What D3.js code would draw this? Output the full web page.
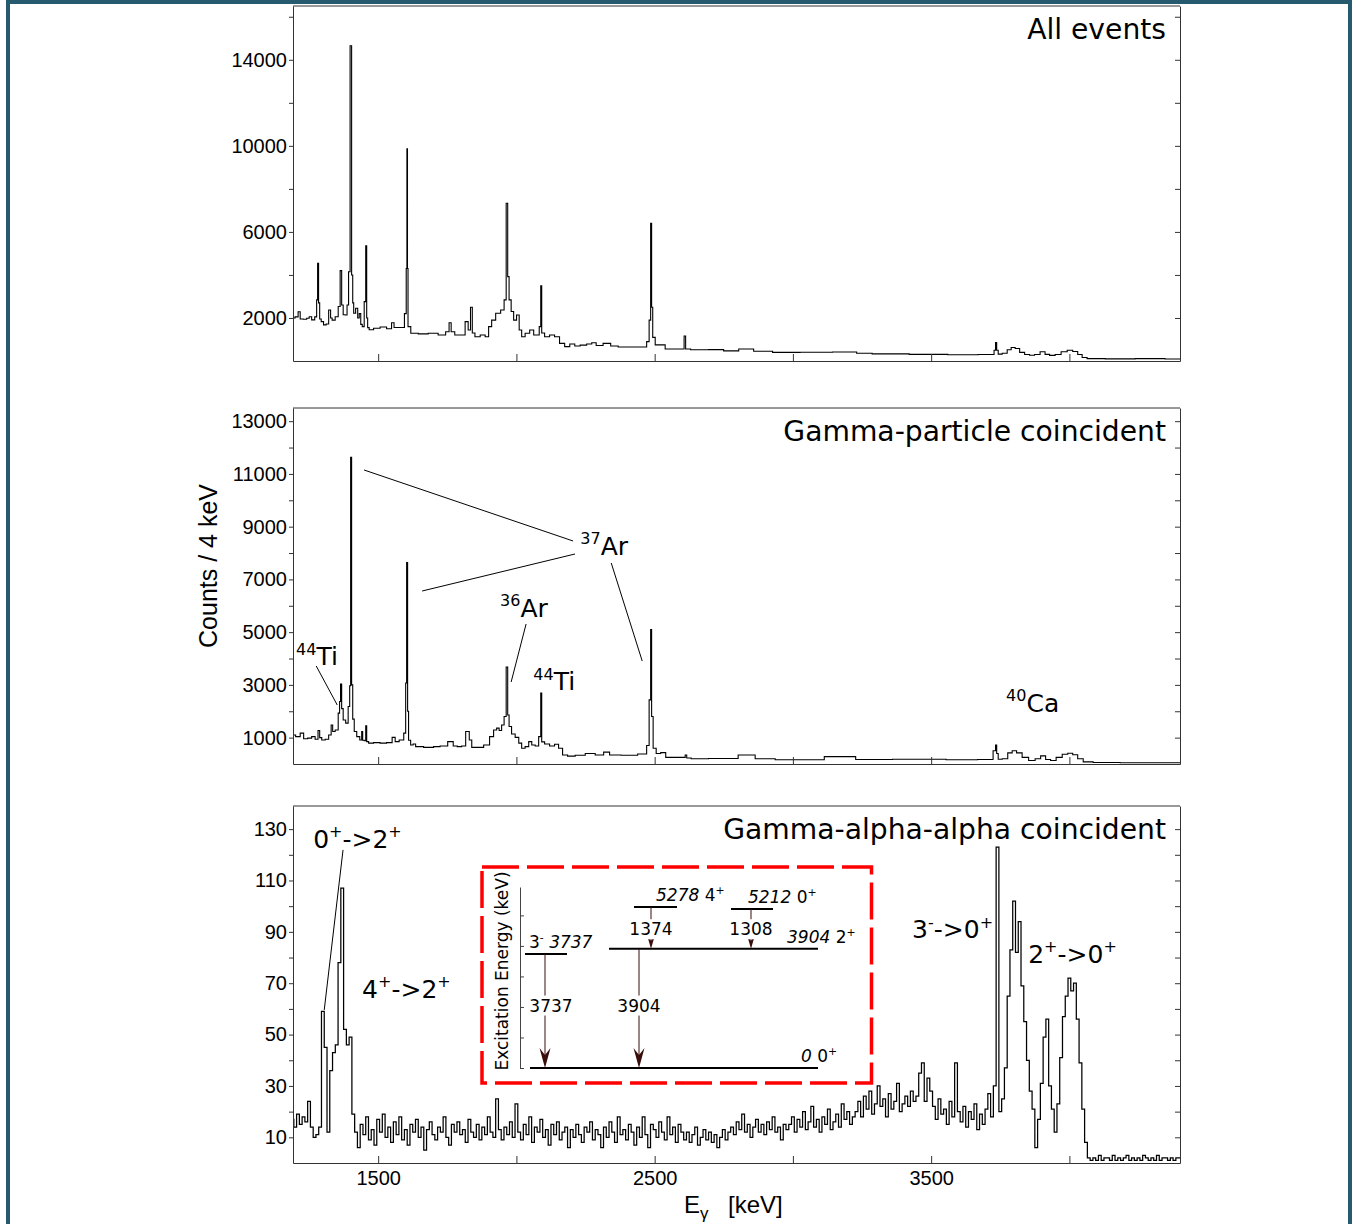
<!DOCTYPE html>
<html><head><meta charset="utf-8">
<script src="https://cdn.jsdelivr.net/npm/d3@7"></script>
<style>body{margin:0;background:#fff}svg{display:block}text{white-space:pre}</style>
</head><body>
<svg id="c" width="1354" height="1224"></svg>
<script>
// ---------------- DATA ----------------
const xDomain = [1192, 4400];
const xTickValues = [1500, 2000, 2500, 3000, 3500, 4000];
const xTickLabels = [1500, 2500, 3500];

// All events spectrum: [E (keV), counts / 4 keV]
const allEvents = [[1192,2000],[1207,2050],[1214,2290],[1222,1950],[1236,1940],[1247,1990],[1254,2060],[1265,1910],[1276,2050],[1279,2840],[1283,4540],[1286,2700],[1291,1950],[1297,1830],[1308,1680],[1316,1720],[1326,2370],[1330,2000],[1337,1900],[1352,2060],[1359,2530],[1366,4200],[1370,2600],[1377,2150],[1384,2140],[1391,2600],[1395,4150],[1402,14650],[1406,4000],[1410,2700],[1413,2220],[1424,2450],[1428,2000],[1435,2200],[1439,1700],[1446,1600],[1453,2760],[1457,5360],[1460,2000],[1464,1550],[1471,1450],[1496,1520],[1518,1580],[1543,1500],[1554,1780],[1561,1560],[1590,1560],[1600,2200],[1603,4300],[1605,9860],[1607,4300],[1609,1600],[1627,1290],[1663,1260],[1699,1290],[1735,1210],[1753,1360],[1760,1780],[1768,1360],[1786,1210],[1807,1210],[1822,1830],[1829,1440],[1839,2500],[1842,1300],[1858,1130],[1880,1210],[1894,1130],[1905,1600],[1916,1900],[1934,2220],[1952,2370],[1959,2840],[1967,7330],[1970,3920],[1977,2840],[1985,2300],[1995,1900],[2006,2140],[2014,1440],[2024,1130],[2039,1290],[2057,1440],[2068,1210],[2079,1210],[2086,1600],[2090,3490],[2093,1300],[2111,1130],[2129,1210],[2147,1130],[2165,820],[2184,670],[2202,790],[2220,700],[2241,740],[2267,790],[2278,850],[2299,720],[2328,820],[2354,700],[2382,650],[2466,650],[2476,900],[2484,1900],[2487,6400],[2491,2500],[2495,1100],[2509,750],[2527,750],[2549,560],[2603,560],[2610,1160],[2614,560],[2646,520],[2744,530],[2755,470],[2853,560],[2863,450],[2990,400],[3062,410],[3225,420],[3236,360],[3337,330],[3504,310],[3616,290],[3724,300],[3731,500],[3735,860],[3739,500],[3746,320],[3768,360],[3782,520],[3797,630],[3811,580],[3829,400],[3847,300],[3865,270],[3883,300],[3905,430],[3919,310],[3938,260],[3959,300],[3981,430],[4003,500],[4021,440],[4039,300],[4053,160],[4075,110],[4184,100],[4292,110],[4400,90]];

// Gamma-particle coincident spectrum
const gammaParticle = [[1192,1100],[1211,1040],[1225,1170],[1236,960],[1254,980],[1265,1040],[1279,940],[1286,1270],[1291,1000],[1301,910],[1316,940],[1326,1100],[1334,1480],[1337,1230],[1352,1290],[1359,1930],[1362,2370],[1366,3030],[1370,2100],[1377,1670],[1388,1550],[1395,2180],[1399,2970],[1402,11630],[1406,3000],[1410,1700],[1417,1230],[1428,1040],[1439,910],[1442,1230],[1446,900],[1453,880],[1457,1450],[1460,850],[1471,790],[1496,810],[1518,790],[1543,810],[1558,1010],[1565,850],[1587,910],[1598,1170],[1601,3070],[1605,7640],[1608,2000],[1612,900],[1623,720],[1630,760],[1641,660],[1688,630],[1713,660],[1735,680],[1768,850],[1775,680],[1797,660],[1807,680],[1826,1230],[1833,910],[1844,630],[1869,630],[1894,720],[1912,1040],[1923,1290],[1934,1360],[1941,1270],[1952,1480],[1959,1800],[1967,3680],[1970,1860],[1977,1420],[1988,1140],[2003,1010],[2014,790],[2024,600],[2039,660],[2050,850],[2061,720],[2075,680],[2086,1040],[2090,2690],[2093,840],[2111,760],[2129,680],[2147,750],[2158,600],[2176,340],[2194,300],[2231,330],[2267,400],[2303,340],[2328,450],[2346,340],[2411,330],[2466,380],[2476,700],[2484,2430],[2487,5100],[2491,1800],[2498,600],[2513,400],[2531,430],[2549,250],[2607,250],[2614,340],[2618,230],[2646,200],[2744,210],[2860,340],[2867,200],[3005,160],[3222,280],[3232,170],[3489,180],[3619,160],[3717,170],[3731,500],[3735,720],[3739,400],[3746,180],[3768,200],[3786,420],[3800,500],[3818,420],[3840,250],[3865,130],[3887,200],[3905,310],[3923,170],[3941,130],[3963,250],[3985,370],[4003,410],[4021,350],[4039,200],[4061,80],[4111,55],[4256,50],[4400,45]];

// Gamma-alpha-alpha coincident spectrum: 10 keV bins starting at 1190 keV
const gaaStart = 1190, gaaBin = 10;
const gammaAlphaAlpha = [
17,14,19,15,18,16,24,14,10,11,14,
59,45,12,36,43,46,78,107,52,46,49,19,
12,6,15,11,18,9,13,7,17,
12,19,10,14,8,16,11,18,9,13,
7,15,12,17,10,14,5,13,16,11,
9,14,12,18,10,7,15,12,16,11,
13,8,17,12,10,15,9,14,11,18,
12,10,25,13,9,14,11,16,10,23,
12,9,15,11,18,8,14,12,17,10,
13,7,15,11,16,9,12,14,6,13,
10,15,11,8,14,12,16,9,13,11,
6,14,10,16,12,8,18,11,13,9,
15,12,7,14,10,18,11,6,15,13,
10,16,12,9,18,11,14,8,15,12,
9,12,8,11,14,7,10,13,9,12,8,11,6,10,13,9,12,
14,11,16,13,19,12,15,10,14,17,12,15,11,16,13,18,12,14,9,15,13,
15,18,12,17,14,20,13,16,22,14,17,12,18,15,21,13,16,19,14,23,17,20,15,18,
20,24,18,26,21,28,19,23,30,22,25,18,27,21,24,31,20,23,26,22,28,24,
26,35,39,24,33,28,
22,17,25,19,21,15,24,18,39,20,16,22,14,20,17,23,13,19,15,21,27,18,30,
123,20,25,37,65,83,102,82,94,69,55,40,28,21,6,17,31,49,56,30,21,12,23,41,57,65,72,67,70,56,39,21,8,2,
1,2,1,3,1,2,2,1,3,1,2,1,2,3,1,2,1,2,1,3,2,1,2,1,3,1,2,2,1,2,1,2];

const topTicks = [2000,4000,6000,8000,10000,12000,14000,16000];
const topTickLabels = [2000,6000,10000,14000];
const midTicks = [1000,2000,3000,4000,5000,6000,7000,8000,9000,10000,11000,12000,13000];
const midTickLabels = [1000,3000,5000,7000,9000,11000,13000];
const botTicks = [10,20,30,40,50,60,70,80,90,100,110,120,130];
const botTickLabels = [10,30,50,70,90,110,130];

// Level scheme (inset)
const levelEnergies = [0, 3737, 3904, 5278, 5212];
const levelSpins = ["0+", "3-", "2+", "4+", "0+"];
const transFrom = [3737, 3904, 5278, 5212];
const transTo = [0, 0, 3904, 3904];
const transLabels = ["3737", "3904", "1374", "1308"];

// ---------------- DRAWING ----------------
const svg = d3.select("#c");
const TXT = "'Liberation Sans', Arial, sans-serif";
const DV = "'DejaVu Sans', Verdana, sans-serif";
const X0 = 293, X1 = 1180;
const x = d3.scaleLinear().domain(xDomain).range([X0, X1]);

// outer frame
svg.append("rect").attr("x", 8).attr("y", 2).attr("width", 1342).attr("height", 1400)
  .attr("fill", "none").attr("stroke", "#265a6e").attr("stroke-width", 4);

function rich(g, px, py, parts, size, fam, anchor) {
  const t = g.append("text").attr("x", px).attr("y", py).attr("font-size", size)
    .attr("font-family", fam || DV).attr("fill", "#000").attr("text-anchor", anchor || "start");
  let raised = 0;
  parts.forEach(([s, m]) => {
    const ts = t.append("tspan").text(s);
    if (m === 1) { // superscript
      ts.attr("font-size", size * 0.64);
      if (!raised) { ts.attr("dy", -size * 0.42); raised = size * 0.42; }
    } else {
      if (raised) { ts.attr("dy", raised); raised = 0; }
      if (m === 2) ts.attr("font-style", "italic");
    }
  });
  return t;
}

const panels = [
  {id: "p1", top: 6, bottom: 361, yDomain: [0, 16500], ticks: topTicks, labels: topTickLabels, title: "All events", xlab: false},
  {id: "p2", top: 408, bottom: 764, yDomain: [0, 13500], ticks: midTicks, labels: midTickLabels, title: "Gamma-particle coincident", xlab: false},
  {id: "p3", top: 806, bottom: 1163, yDomain: [0, 139], ticks: botTicks, labels: botTickLabels, title: "Gamma-alpha-alpha coincident", xlab: true}
];
const yScales = {};

panels.forEach((p, i) => {
  const y = d3.scaleLinear().domain(p.yDomain).range([p.bottom, p.top]);
  yScales[p.id] = y;
  const g = svg.append("g");
  g.append("clipPath").attr("id", "clip" + i).append("rect")
    .attr("x", X0).attr("y", p.top).attr("width", X1 - X0).attr("height", p.bottom - p.top);

  let data;
  if (i < 2) {
    data = i === 0 ? allEvents : gammaParticle;
  } else {
    data = gammaAlphaAlpha.map((c, k) => [gaaStart + k * gaaBin, c]);
    data.push([gaaStart + gammaAlphaAlpha.length * gaaBin, gammaAlphaAlpha[gammaAlphaAlpha.length - 1]]);
  }
  const line = d3.line().x(d => x(d[0])).y(d => y(d[1])).curve(d3.curveStep);
  g.append("path").attr("clip-path", `url(#clip${i})`).attr("d", line(data))
    .attr("fill", "none").attr("stroke", "#000").attr("stroke-width", i < 2 ? 1.1 : 1.25);

  // axes
  const left = g.append("g").attr("transform", `translate(${X0},0)`)
    .call(d3.axisLeft(y).tickValues(p.ticks).tickSize(4).tickPadding(2).tickSizeOuter(0)
      .tickFormat(d => p.labels.includes(d) ? d : ""));
  const right = g.append("g").attr("transform", `translate(${X1},0)`)
    .call(d3.axisRight(y).tickValues(p.ticks).tickSize(-5).tickSizeOuter(0).tickFormat(""));
  const bot = g.append("g").attr("transform", `translate(0,${p.bottom})`)
    .call(d3.axisBottom(x).tickValues(xTickValues).tickSize(-7).tickPadding(8).tickSizeOuter(0)
      .tickFormat(d => p.xlab && xTickLabels.includes(d) ? d : ""));
  [left, right, bot].forEach(a => {
    a.selectAll("path.domain").attr("stroke", "#333");
    a.selectAll(".tick line").attr("stroke", "#333");
    a.selectAll("text").attr("font-family", TXT).attr("font-size", 20).attr("fill", "#000");
  });
  g.append("line").attr("x1", X0).attr("x2", X1).attr("y1", p.top).attr("y2", p.top).attr("stroke", "#333");

  g.append("text").attr("x", 1166).attr("y", p.top + 33).attr("text-anchor", "end")
    .attr("font-family", DV).attr("font-size", 28.2).attr("fill", "#000").text(p.title);
});

// ---- annotations: middle panel ----
{
  const y = yScales.p2, g = svg.append("g");
  const lines = [[1449, 11149, 2205, 8457], [1659, 6560, 2212, 7964], [2343, 7622, 2455, 3906],
                 [2035, 5309, 1981, 3110], [1276, 3716, 1352, 2237]];
  lines.forEach(l => g.append("line").attr("x1", x(l[0])).attr("y1", y(l[1])).attr("x2", x(l[2])).attr("y2", y(l[3]))
    .attr("stroke", "#000").attr("stroke-width", 1));
  rich(g, x(2231), y(7926), [["37", 1], ["Ar", 0]], 25);
  rich(g, x(1941), y(5575), [["36", 1], ["Ar", 0]], 25);
  rich(g, x(1203), y(3754), [["44", 1], ["Ti", 0]], 25);
  rich(g, x(2061), y(2806), [["44", 1], ["Ti", 0]], 25);
  rich(g, x(3771), y(1972), [["40", 1], ["Ca", 0]], 25);
}

// ---- annotations: bottom panel ----
{
  const y = yScales.p3, g = svg.append("g");
  g.append("line").attr("x1", x(1305)).attr("y1", y(59.6)).attr("x2", x(1373)).attr("y2", y(121.9))
    .attr("stroke", "#000").attr("stroke-width", 1);
  rich(g, x(1265), y(122.7), [["0", 0], ["+", 1], ["->2", 0], ["+", 1]], 25);
  rich(g, x(1442), y(64.3), [["4", 0], ["+", 1], ["->2", 0], ["+", 1]], 25);
  rich(g, x(3431), y(87.6), [["3", 0], ["-", 1], ["->0", 0], ["+", 1]], 25);
  rich(g, x(3851), y(77.9), [["2", 0], ["+", 1], ["->0", 0], ["+", 1]], 25);
}

// ---- axis titles ----
svg.append("text").attr("transform", "translate(217,566) rotate(-90)").attr("text-anchor", "middle")
  .attr("font-family", TXT).attr("font-size", 25).attr("fill", "#000").text("Counts / 4 keV");
svg.append("text").attr("x", 684).attr("y", 1213).attr("font-family", TXT).attr("font-size", 24).attr("fill", "#000").text("E");
svg.append("text").attr("x", 700).attr("y", 1219).attr("font-family", TXT).attr("font-size", 17).attr("fill", "#000").text("γ");
svg.append("text").attr("x", 728).attr("y", 1213).attr("font-family", TXT).attr("font-size", 24).attr("fill", "#000").text("[keV]");

// ---- inset level scheme ----
{
  const L = 482, T = 867, R = 871.5, B = 1083;
  const g = svg.append("g");
  g.append("rect").attr("x", L).attr("y", T).attr("width", R - L).attr("height", B - T)
    .attr("fill", "#fff").attr("stroke", "#ff0000").attr("stroke-width", 3.5).attr("stroke-dasharray", "37,8");
  const e = d3.scaleLinear().domain([0, 5930]).range([1068, 887]);
  // energy axis
  g.append("g").attr("transform", `translate(${L + 38},0)`)
    .call(d3.axisRight(e).tickValues([0, 1000, 2000, 3000, 4000, 5000]).tickSize(4).tickSizeOuter(0).tickFormat(""))
    .call(a => { a.selectAll("path.domain,.tick line").attr("stroke", "#444"); });
  g.append("text").attr("transform", `translate(${L + 26},971) rotate(-90)`).attr("text-anchor", "middle")
    .attr("font-family", DV).attr("font-size", 17).attr("fill", "#000").text("Excitation Energy (keV)");

  const colSpan = {0: [48, 336], 3737: [43, 85], 3904: [127, 336], 5278: [152, 195], 5212: [249, 291]};
  levelEnergies.forEach(E => {
    const s = colSpan[E];
    g.append("line").attr("x1", L + s[0]).attr("x2", L + s[1]).attr("y1", e(E)).attr("y2", e(E))
      .attr("stroke", "#000").attr("stroke-width", 2);
  });
  // level labels
  const sp = j => [[j[0], 0], [j[1] === "-" ? "-" : "+", 1]];
  const lab = {};
  levelEnergies.forEach((E, k) => lab[E] = levelSpins[k]);
  rich(g, L + 47, e(3737) - 6, [...sp(lab[3737]), [" ", 0], ["3737", 2]], 17);
  rich(g, L + 174, e(5278) - 6, [["5278", 2], [" ", 0], ...sp(lab[5278])], 17);
  rich(g, L + 266, e(5212) - 6, [["5212", 2], [" ", 0], ...sp(lab[5212])], 17);
  rich(g, L + 305, e(3904) - 6, [["3904", 2], [" ", 0], ...sp(lab[3904])], 17);
  rich(g, L + 319, e(0) - 6, [["0", 2], [" ", 0], ...sp(lab[0])], 17);

  // transitions
  const col = "#3a0d0d";
  const ax = [63, 157, 169, 269];
  const labE = [1850, 1850, 4350, 4350];
  const labDx = [6, 0, 0, 0];
  transFrom.forEach((Ef, k) => {
    const xp = L + ax[k], y1 = e(Ef), y2 = e(transTo[k]);
    const big = transTo[k] === 0;
    g.append("line").attr("x1", xp).attr("x2", xp).attr("y1", y1).attr("y2", y2 - 4)
      .attr("stroke", col).attr("stroke-width", 1);
    const Lh = big ? 20 : 12, Wd = big ? 5.5 : 3.5, nt = big ? 13 : 8;
    g.append("path").attr("d", `M${xp},${y2} L${xp - Wd},${y2 - Lh} L${xp},${y2 - nt} L${xp + Wd},${y2 - Lh} Z`).attr("fill", col);
    const t = g.append("text").attr("x", xp + labDx[k]).attr("y", e(labE[k])).attr("text-anchor", "middle")
      .attr("font-family", DV).attr("font-size", 17).attr("fill", "#000").text(transLabels[k]);
    const bb = t.node().getBBox();
    g.insert("rect", () => t.node()).attr("x", bb.x - 1).attr("y", bb.y).attr("width", bb.width + 2).attr("height", bb.height).attr("fill", "#fff");
  });
}
</script>
</body></html>
